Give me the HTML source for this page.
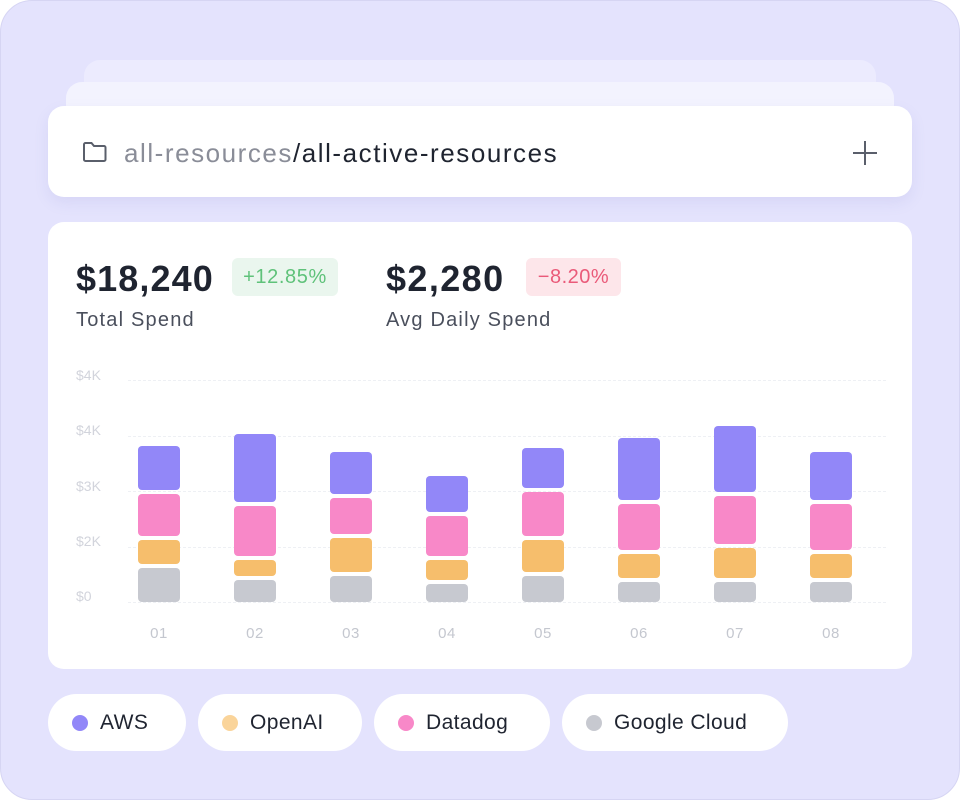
<!DOCTYPE html><html><head><style>
*{margin:0;padding:0;box-sizing:border-box}
body{width:960px;height:800px;background:#fff;font-family:"Liberation Sans",sans-serif;position:relative;overflow:hidden}
.bg{position:absolute;left:0;top:0;width:960px;height:800px;background:#e4e3fd;border-radius:32px;border:1px solid #d6d5f3}
.a{position:absolute}
.card{background:#fff;border-radius:16px}
.pill{position:absolute;top:694px;height:57px;background:#fff;border-radius:29px;font-size:21px;color:#1f2430;display:flex;align-items:center;letter-spacing:0.4px}
.dot{width:16px;height:16px;border-radius:50%;margin:0 12px 0 24px}
.yl{position:absolute;left:76px;font-size:14px;color:#d2d4dc}
.gl{position:absolute;left:128px;width:758px;border-top:1.5px dashed #eef0f4}
.xl{position:absolute;top:625px;font-size:15px;color:#c4c7cf;width:42px;text-align:center;letter-spacing:0.5px}
.b{position:absolute;width:42px;border-radius:4px}
</style></head><body>
<div class="bg"></div>
<div class="a" style="left:84px;top:60px;width:792px;height:60px;background:#ecebfe;border-radius:16px"></div>
<div class="a" style="left:66px;top:82px;width:828px;height:60px;background:#f3f3fe;border-radius:16px"></div>
<div class="a card" style="left:48px;top:106px;width:864px;height:91px;box-shadow:0 6px 14px rgba(120,120,200,0.12)"></div>
<svg class="a" style="left:82px;top:141px" width="26" height="22" viewBox="0 0 26 22"><path d="M2 3.5a1.5 1.5 0 0 1 1.5-1.5h6l2.5 3h10a1.5 1.5 0 0 1 1.5 1.5v12a1.5 1.5 0 0 1-1.5 1.5h-18.5a1.5 1.5 0 0 1-1.5-1.5z" fill="none" stroke="#5a5f6b" stroke-width="2"/></svg>
<div class="a" style="left:124px;top:138px;font-size:26px;color:#1f2430;letter-spacing:1.55px"><span style="color:#8a8d98">all-resources</span>/all-active-resources</div>
<div class="a" style="left:853px;top:152px;width:24px;height:2px;background:#5a5f6b"></div>
<div class="a" style="left:864px;top:141px;width:2px;height:24px;background:#5a5f6b"></div>
<div class="a card" style="left:48px;top:222px;width:864px;height:447px"></div>
<div class="a" style="left:76px;top:258px;font-size:36px;font-weight:bold;color:#1f2430;letter-spacing:1.1px">$18,240</div>
<div class="a" style="left:232px;top:258px;width:106px;height:38px;background:#eaf6ee;border-radius:6px;color:#5fc27a;font-size:20px;text-align:center;line-height:38px;letter-spacing:0.6px">+12.85%</div>
<div class="a" style="left:76px;top:309px;font-size:20px;color:#4a4f5c;letter-spacing:1.2px">Total Spend</div>
<div class="a" style="left:386px;top:258px;font-size:36px;font-weight:bold;color:#1f2430;letter-spacing:1.4px">$2,280</div>
<div class="a" style="left:526px;top:258px;width:95px;height:38px;background:#fde6ea;border-radius:6px;color:#ea5a79;font-size:20px;text-align:center;line-height:38px;letter-spacing:0.5px">−8.20%</div>
<div class="a" style="left:386px;top:309px;font-size:20px;color:#4a4f5c;letter-spacing:1.2px">Avg Daily Spend</div>
<div class="yl" style="top:367px">$4K</div><div class="gl" style="top:380px"></div>
<div class="yl" style="top:422px">$4K</div><div class="gl" style="top:436px"></div>
<div class="yl" style="top:478px">$3K</div><div class="gl" style="top:491px"></div>
<div class="yl" style="top:533px">$2K</div><div class="gl" style="top:547px"></div>
<div class="yl" style="top:588px">$0</div><div class="gl" style="top:602px"></div>
<div id="bars"></div>
<script>
var d=[[446,490,494,536,540,564,568,602],[434,502,506,556,560,576,580,602],[452,494,498,534,538,572,576,602],[476,512,516,556,560,580,584,602],[448,488,492,536,540,572,576,602],[438,500,504,550,554,578,582,602],[426,492,496,544,548,578,582,602],[452,500,504,550,554,578,582,602]];
var c=["#9287f8","#f888c8","#f6be6c","#c7c9d0"],h="";
d.forEach(function(r,i){var x=138+96*i;for(var k=0;k<4;k++)h+='<div class="b" style="left:'+x+'px;top:'+r[2*k]+'px;height:'+(r[2*k+1]-r[2*k])+'px;background:'+c[k]+'"></div>';h+='<div class="xl" style="left:'+x+'px">0'+(i+1)+'</div>';});
document.getElementById("bars").innerHTML=h;
</script>
<div class="pill" style="left:48px;width:138px"><span class="dot" style="background:#9287f8"></span>AWS</div>
<div class="pill" style="left:198px;width:164px"><span class="dot" style="background:#fad49a"></span>OpenAI</div>
<div class="pill" style="left:374px;width:176px"><span class="dot" style="background:#f888c8"></span>Datadog</div>
<div class="pill" style="left:562px;width:226px"><span class="dot" style="background:#c7c9d0"></span>Google Cloud</div>
</body></html>
